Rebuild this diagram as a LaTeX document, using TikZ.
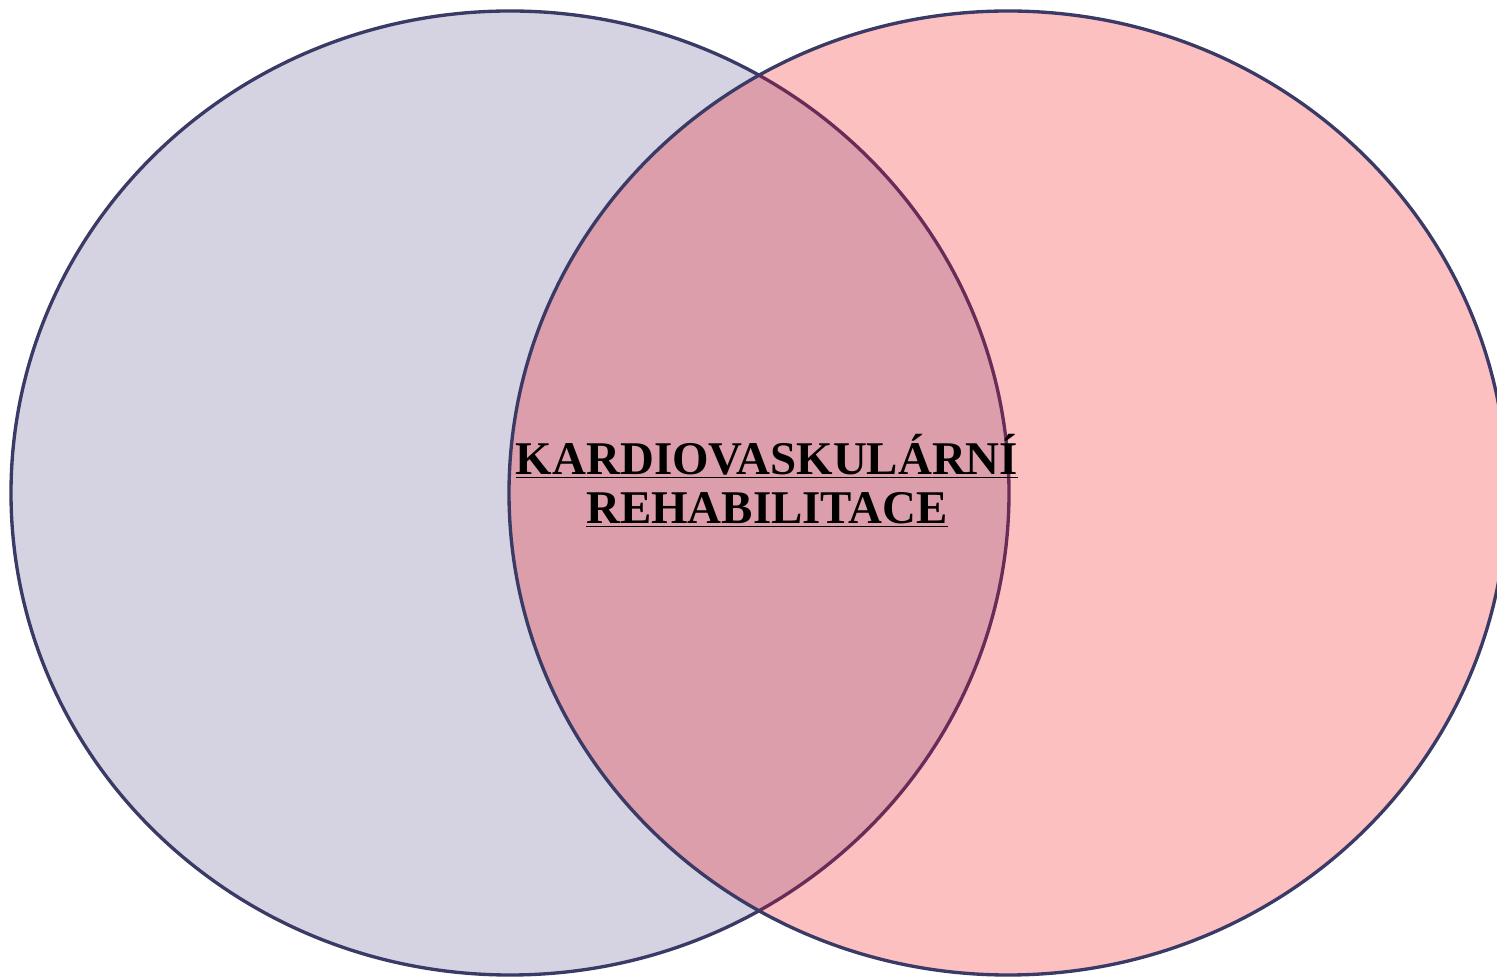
\documentclass[tikz,border=0pt]{standalone}
\usepackage{fontspec}
\setmainfont{Liberation Serif}
\definecolor{rimnavy}{RGB}{58,58,102}
\definecolor{rimplum}{RGB}{104,44,88}
\definecolor{leftlav}{RGB}{213,211,226}
\definecolor{rightpink}{RGB}{253,192,193}
\definecolor{bothmix}{RGB}{220,158,170}
\tikzset{
  rim/.style={draw=rimnavy, line width=1.9pt},
  title/.style={align=center, font=\fontsize{26.7}{28}\selectfont\bfseries}
}
\begin{document}
\begin{tikzpicture}[x=0.02cm,y=0.02cm]
\useasboundingbox (0,0) rectangle (1497,977);
\fill[leftlav] (510,484) ellipse [x radius=499, y radius=482];
\draw[rim] (510,484) ellipse [x radius=499, y radius=482];
\fill[rightpink] (1008,484) ellipse [x radius=499, y radius=482];
% overlap
\begin{scope}
\clip (1008,484) ellipse [x radius=499, y radius=482];
\fill[bothmix] (510,484) ellipse [x radius=499, y radius=482];
\draw[rim, draw=rimplum] (510,484) ellipse [x radius=499, y radius=482];
\end{scope}
\draw[rim] (1008,484) ellipse [x radius=499, y radius=482];
\node[title] (cvr) at (767,496) {\underline{KARDIOVASKULÁRNÍ}\\\underline{REHABILITACE}};
\end{tikzpicture}
\end{document}
